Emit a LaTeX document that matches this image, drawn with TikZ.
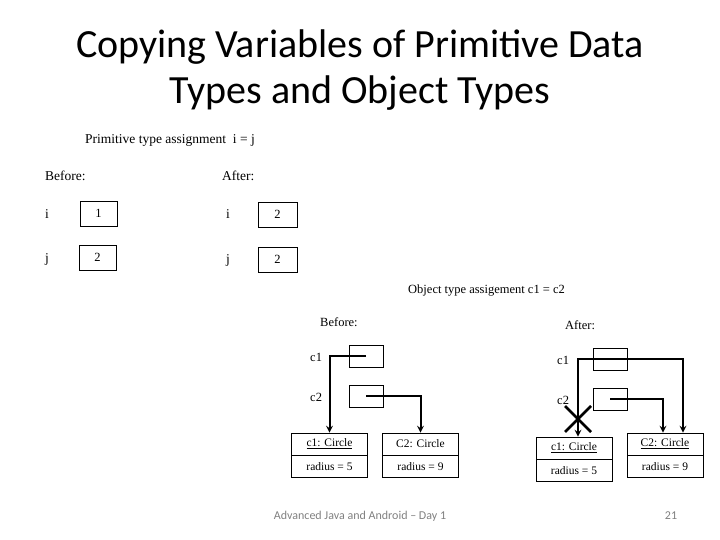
\documentclass[tikz,border=0pt]{standalone}
\usepackage{fontspec}
\setmainfont{Liberation Serif}
\newfontfamily\slidefont{Carlito}
\usetikzlibrary{arrows, calc, positioning}
\tikzstyle{cell} = [rectangle, thick, draw=black, minimum width=37pt, minimum height=25pt, inner sep=0pt, text centered]
\tikzstyle{refbox} = [rectangle, thick, draw=black, minimum width=34pt, minimum height=22pt, inner sep=0pt]
\tikzstyle{objpart} = [rectangle, thick, draw=black, minimum width=76pt, minimum height=22pt, inner sep=0pt, text centered, font=\fontsize{11.5}{13}\selectfont]
\tikzstyle{txt} = [inner sep=0pt, anchor=west]
\tikzstyle{primtxt} = [txt, font=\fontsize{13.5}{16}\selectfont]
\tikzstyle{arrow} = [line width=2pt,->,>=stealth]

\begin{document}
\begin{tikzpicture}[x=1pt, y=-1pt, font=\fontsize{12.5}{15}\selectfont]
		\useasboundingbox (0,0) rectangle (720,540);
		% title
		\node (Title) [align=center, font=\slidefont\fontsize{40}{46}\selectfont] at (360,70) {Copying Variables of Primitive Data\\Types and Object Types};
		% primitive types
		\node (PrimHead) [primtxt] at (85,140) {Primitive type assignment \ i = j};
		\node (PrimBefore) [primtxt] at (45,176) {Before:};
		\node (PrimAfter) [primtxt] at (222,176) {After:};
		\node (BeforeI) [primtxt] at (45,214) {i};
		\node (BeforeIBox) [cell] at (98.5,213.5) {1};
		\node (BeforeJ) [primtxt] at (45,259) {j};
		\node (BeforeJBox) [cell] at (97.5,257.5) {2};
		\node (AfterI) [primtxt] at (226,214) {i};
		\node (AfterIBox) [cell, minimum width=39pt] at (277.5,214.5) {2};
		\node (AfterJ) [primtxt] at (226,260) {j};
		\node (AfterJBox) [cell, minimum width=39pt] at (277.5,259.5) {2};
		% object types
		\node (ObjHead) [txt] at (408,291) {Object type assigement c1 = c2};
		\node (ObjBefore) [txt] at (320,322) {Before:};
		\node (BeforeC1) [txt] at (310,357) {c1};
		\node (BeforeC1Box) [refbox] at (366,356) {};
		\node (BeforeC2) [txt] at (310,397) {c2};
		\node (BeforeC2Box) [refbox] at (366,396) {};
		\node (BeforeCircle1) [objpart] at (329.5,444) {\underline{c1: Circle}};
		\node (BeforeRadius1) [objpart, below = 0pt of BeforeCircle1] {radius = 5};
		\node (BeforeCircle2) [objpart] at (420.5,444) {C2: Circle};
		\node (BeforeRadius2) [objpart, below = 0pt of BeforeCircle2] {radius = 9};
		\draw [arrow] (BeforeC1Box.center) -| (BeforeCircle1.north);
		\draw [arrow] (BeforeC2Box.center) -| (BeforeCircle2.north);
		\node (ObjAfter) [txt] at (565,325) {After:};
		\node (AfterC1) [txt] at (557,360) {c1};
		\node (AfterC1Box) [refbox] at (610.5,359) {};
		\node (AfterC2) [txt] at (557,400) {c2};
		\node (AfterC2Box) [refbox] at (610,399) {};
		\node (AfterCircle1) [objpart] at (574,448) {\underline{c1: Circle}};
		\node (AfterRadius1) [objpart, below = 0pt of AfterCircle1] {radius = 5};
		\node (AfterCircle2) [objpart] at (665,444) {\underline{C2: Circle}};
		\node (AfterRadius2) [objpart, below = 0pt of AfterCircle2] {radius = 9};
		\draw [arrow] (AfterC1Box.center) -| (AfterCircle1.north -| 578,0);
		\draw [arrow] (AfterC1Box.center) -| ($(AfterCircle2.north)+(18,0)$);
		\draw [arrow] (AfterC2Box.center) -| ($(AfterCircle2.north)+(-2,0)$);
		\draw [line width=2.5pt] (565,406) -- (591,432) (591,406) -- (565,432);
		% footer
		\node (Footer) [font=\slidefont\fontsize{12}{14}\selectfont, text=gray] at (360,516) {Advanced Java and Android \textendash{} Day 1};
		\node (PageNo) [font=\slidefont\fontsize{12}{14}\selectfont, text=gray] at (671,516) {21};
		\end{tikzpicture}
\end{document}
